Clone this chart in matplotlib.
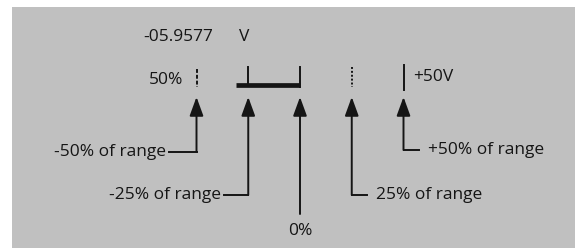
import matplotlib
matplotlib.use('Agg')
import matplotlib.pyplot as plt
from matplotlib.patches import Rectangle

# marker positions, in percent of range
pct = [-50, -25, 0, 25, 50]
pct_labels = ['-50% of range', '-25% of range', '0%', '25% of range', '+50% of range']
tick_styles = [(0, (2, 1)), '-', '-', (0, (1, 1)), '-']
bar_start, bar_end = -31, 0          # filled bar-graph segment
reading_text = '-05.9577'
unit_text = 'V'
lo_label = '50%'
hi_label = '+50V'

W, H = 575, 248
PX = 1 / 2.07                      # percent per pixel
fig = plt.figure(figsize=(W / 100, H / 100), dpi=100)
ax = fig.add_axes([0, 0, 1, 1])
ax.set_xlim(-300 * PX, (W - 300) * PX)
ax.set_ylim(H, 0)
ax.axis('off')
fig.patches.append(Rectangle((12 / W, 0), 1, 1 - 7 / H, transform=fig.transFigure,
                             facecolor='#c0c0c0', edgecolor='none', zorder=-1))

ink = '#151515'
font = dict(family='Open Sans', color=ink, fontsize=12.5)

# readout
ax.text(bar_end - 122 * PX, 37, reading_text, ha='center', va='center', **font)
ax.text(bar_end - 56 * PX, 37, unit_text, ha='center', va='center', **font)
ax.text(pct[0] - 13 * PX, 80, lo_label, ha='right', va='center', **font)
ax.text(pct[-1] + 10 * PX, 77, hi_label, ha='left', va='center', **font)

# bar segment
ax.plot([bar_start, bar_end], [85, 85], color=ink, lw=3.4, solid_capstyle='butt')

# scale ticks above the bar
tick_top = [69, 67, 67, 67, 65]
tick_bot = [87, 85, 87, 87, 90]
for p, t, b, ls in zip(pct, tick_top, tick_bot, tick_styles):
    ax.plot([p, p], [t, b], color=ink, lw=1.4, ls=ls)

# arrows with elbow leaders
elbow_y = [152, 195, 214, 195, 150]
elbow_dx = [-28, -24, 0, 15, 15]
for p, ey, dx, lab in zip(pct, elbow_y, elbow_dx, pct_labels):
    ax.annotate('', xy=(p, 97), xytext=(p, ey),
                arrowprops=dict(arrowstyle='-|>,head_length=1.15,head_width=0.42',
                                color=ink, lw=1.4, shrinkA=0, shrinkB=0))
    if dx == 0:
        ax.text(p, 231, lab, ha='center', va='center', **font)
        continue
    ax.plot([p, p + dx * PX], [ey, ey], color=ink, lw=1.4)
    if dx < 0:
        ax.text(p + (dx - 3) * PX, ey, lab, ha='right', va='center', **font)
    else:
        ax.text(p + (dx + 9) * PX, ey, lab, ha='left', va='center', **font)

fig.savefig('out.png', dpi=100, facecolor='white')
